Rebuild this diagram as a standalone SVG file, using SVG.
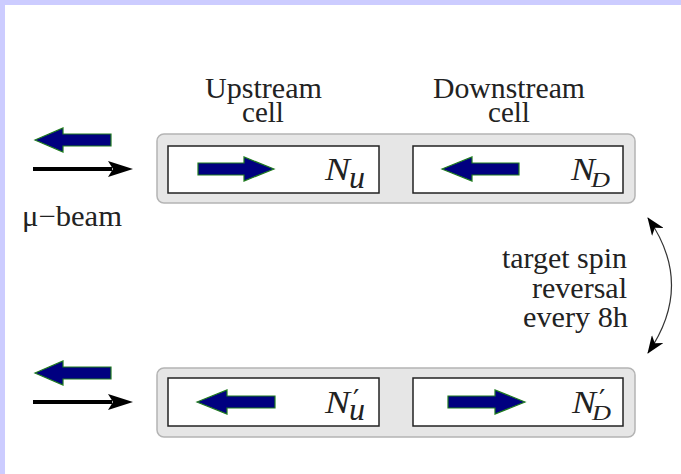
<svg xmlns="http://www.w3.org/2000/svg" width="681" height="474" viewBox="0 0 681 474">
<defs>
<style>
.outer{fill:#e6e6e6;stroke:#b4b4b4;stroke-width:1.5}
.inner{fill:#fff;stroke:#222;stroke-width:1.5}
.spin{fill:#000080;stroke:#1f7a1f;stroke-width:1.2}
.beam{stroke:#000;stroke-width:4;fill:none}
.head{fill:#000}
.t{font-family:"Liberation Serif","Times New Roman",serif;fill:#222}
.lbl{font-size:29px}
.m{font-family:"Liberation Serif","Times New Roman",serif;font-style:italic;fill:#222}
.pr{font-family:"DejaVu Serif","Liberation Serif",serif;fill:#222;font-size:28px}
</style>
<marker id="ah" viewBox="0 0 18 14" refX="17" refY="7" markerWidth="18" markerHeight="14" markerUnits="userSpaceOnUse" orient="auto-start-reverse">
<path d="M0,0 L18,7 L0,14 L5,7 Z" fill="#000"/>
</marker>
</defs>
<rect x="0" y="0" width="681" height="474" fill="#fff"/>
<rect x="0" y="0" width="681" height="5" fill="#ccccff"/>
<rect x="0" y="0" width="5" height="474" fill="#ccccff"/>

<g id="label-upstream">
<text class="t lbl" x="205" y="98" textLength="117" lengthAdjust="spacingAndGlyphs">Upstream</text>
<text class="t lbl" x="263" y="122" text-anchor="middle">cell</text>
</g>
<g id="label-downstream">
<text class="t lbl" x="433" y="98" textLength="152" lengthAdjust="spacingAndGlyphs">Downstream</text>
<text class="t lbl" x="509" y="122" text-anchor="middle">cell</text>
</g>

<g id="beam-top">
<path class="spin" d="M35,140 L63,128 L63,134 L111,134 L111,146 L63,146 L63,152 Z"/>
<line class="beam" x1="33" y1="169" x2="112" y2="169"/>
<path class="head" d="M133,169 L108,161 L113,169 L108,177 Z"/>
</g>
<g id="label-beam">
<text class="t lbl" x="22" y="226" textLength="100" lengthAdjust="spacingAndGlyphs">μ−beam</text>
</g>

<g id="cell-top">
<rect class="outer" x="157" y="134" width="478" height="69" rx="7"/>
<g id="upstream-top">
<rect class="inner" x="168" y="146" width="211" height="47"/>
<path class="spin" d="M274,169 L244,157 L244,163 L198,163 L198,175 L244,175 L244,181 Z"/>
<text class="m" x="325" y="180" font-size="31" textLength="25" lengthAdjust="spacingAndGlyphs">N</text>
<text class="m" x="349" y="188" font-size="32">u</text>
</g>
<g id="downstream-top">
<rect class="inner" x="413" y="146" width="210" height="47"/>
<path class="spin" d="M442,169 L472,157 L472,163 L519,163 L519,175 L472,175 L472,181 Z"/>
<text class="m" x="571" y="180" font-size="31" textLength="24" lengthAdjust="spacingAndGlyphs">N</text>
<text class="m" x="591" y="187" font-size="21" textLength="19" lengthAdjust="spacingAndGlyphs">D</text>
</g>
</g>

<g id="beam-bottom">
<path class="spin" d="M35,373 L63,361 L63,367 L111,367 L111,379 L63,379 L63,385 Z"/>
<line class="beam" x1="33" y1="402" x2="112" y2="402"/>
<path class="head" d="M133,402 L108,394 L113,402 L108,410 Z"/>
</g>

<g id="cell-bottom">
<rect class="outer" x="157" y="368" width="478" height="69" rx="7"/>
<g id="upstream-bottom">
<rect class="inner" x="168" y="378" width="211" height="48"/>
<path class="spin" d="M197,402 L227,390 L227,396 L275,396 L275,408 L227,408 L227,414 Z"/>
<text class="m" x="325" y="413" font-size="31" textLength="25" lengthAdjust="spacingAndGlyphs">N</text>
<text class="pr" x="353" y="410">′</text>
<text class="m" x="349" y="420" font-size="32">u</text>
</g>
<g id="downstream-bottom">
<rect class="inner" x="413" y="378" width="210" height="48"/>
<path class="spin" d="M525,402 L495,390 L495,396 L448,396 L448,408 L495,408 L495,414 Z"/>
<text class="m" x="572" y="413" font-size="31" textLength="24" lengthAdjust="spacingAndGlyphs">N</text>
<text class="pr" x="599" y="410">′</text>
<text class="m" x="592" y="420" font-size="21" textLength="19" lengthAdjust="spacingAndGlyphs">D</text>
</g>
</g>

<g id="label-reversal">
<text class="t lbl" x="502" y="268" textLength="125" lengthAdjust="spacingAndGlyphs">target spin</text>
<text class="t lbl" x="532" y="298" textLength="95" lengthAdjust="spacingAndGlyphs">reversal</text>
<text class="t lbl" x="523" y="327" textLength="105" lengthAdjust="spacingAndGlyphs">every 8h</text>
</g>

<g id="connectors">
<path d="M648,218 Q695,285 648,353" fill="none" stroke="#333" stroke-width="1.2" marker-start="url(#ah)" marker-end="url(#ah)"/>
</g>
</svg>
